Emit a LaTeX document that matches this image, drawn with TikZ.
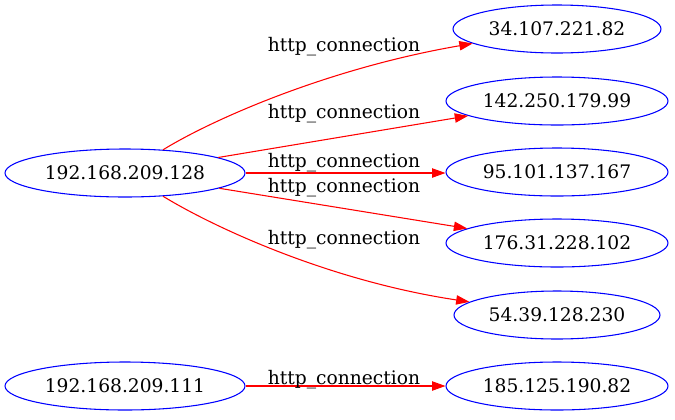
\documentclass[tikz,border=0pt]{standalone}
\usepackage{fontspec}
\setmainfont{DejaVu Serif}
\usetikzlibrary{arrows.meta,shapes.geometric}
\begin{document}
\begin{tikzpicture}[x=0.75pt,y=-0.75pt,
  host/.style={draw=blue,line width=0.8pt,ellipse,inner sep=0pt,minimum height=36pt,font=\fontsize{14pt}{16pt}\selectfont},
  conn/.style={draw=red,line width=0.8pt,-{Triangle[length=10pt,width=7pt]},red},
  lbl/.style={inner sep=0pt,font=\fontsize{14pt}{16pt}\selectfont}]
\useasboundingbox (0,0) rectangle (675,419);
\node[host,minimum width=180pt] (a) at (125,173) {192.168.209.128};
\node[host,minimum width=180pt] (f) at (125,386) {192.168.209.111};
\node[host,minimum width=156pt] (b1) at (557,29) {34.107.221.82};
\node[host,minimum width=166.5pt] (b2) at (557,101) {142.250.179.99};
\node[host,minimum width=166.5pt] (b3) at (557,172) {95.101.137.167};
\node[host,minimum width=166.5pt] (b4) at (557,243) {176.31.228.102};
\node[host,minimum width=154.5pt] (b5) at (557,315) {54.39.128.230};
\node[host,minimum width=166.5pt] (g) at (557,386) {185.125.190.82};
\draw[conn] (a) .. controls (215,118) and (330,68) .. (b1);
\draw[conn] (a) -- (b2);
\draw[conn] (a.east) -- (a.east -| b3.west);
\draw[conn] (a) -- (b4);
\draw[conn] (a) .. controls (215,228) and (330,281) .. (b5);
\draw[conn] (f) -- (g);
\node[lbl] (l1) at (344,47) {http\_connection};
\node[lbl] (l2) at (344,114) {http\_connection};
\node[lbl] (l3) at (344,163) {http\_connection};
\node[lbl] (l4) at (344,188) {http\_connection};
\node[lbl] (l5) at (344,240) {http\_connection};
\node[lbl] (l6) at (344,379.5) {http\_connection};
\end{tikzpicture}
\end{document}
